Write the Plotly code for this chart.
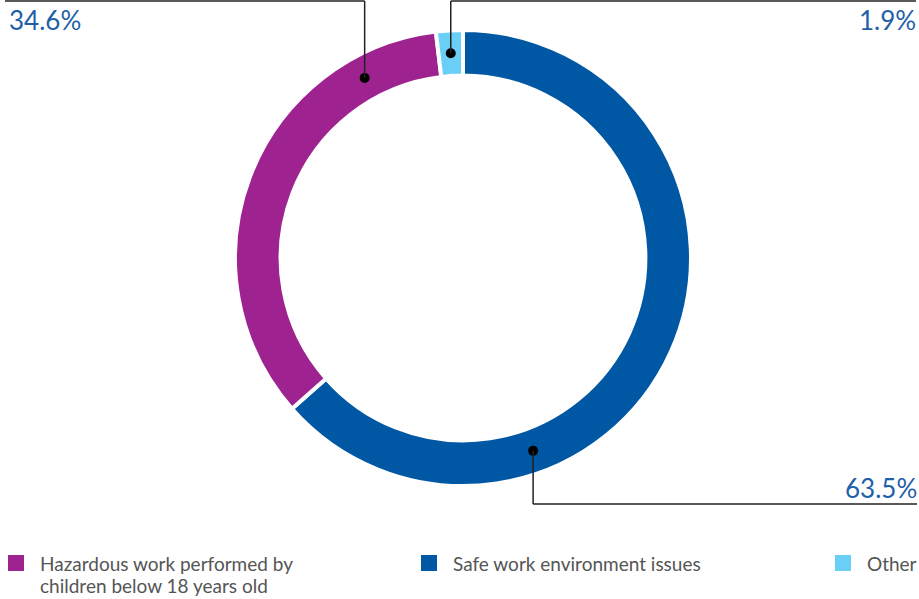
import math
import plotly.graph_objects as go

# ---- data ----
categories = ["Safe work environment issues", "Hazardous work performed by children below 18 years old", "Other"]
values = [63.5, 34.6, 1.9]
value_labels = ["63.5%", "34.6%", "1.9%"]
legend_order = ["Hazardous work performed by<br>children below 18 years old", "Safe work environment issues", "Other"]
# relative position of the leader dot inside each slice (fraction of the slice's arc)
dot_fraction = [0.70, 0.825, 0.5]

colors = ["#0057A3", "#9E2390", "#6ACFF6"]
legend_colors = ["#9E2390", "#0057A3", "#6ACFF6"]
text_blue = "#1F5FA8"

W, H = 919, 599
cx, cy, R = 463, 258, 228
hole = 0.80


def px(x):
    return x / W


def py(y):
    return 1 - y / H


fig = go.Figure(go.Pie(
    labels=categories,
    values=values,
    sort=False,
    direction="clockwise",
    rotation=0,
    hole=hole,
    textinfo="none",
    marker=dict(colors=colors, line=dict(color="white", width=4)),
    domain=dict(x=[px(cx - R), px(cx + R)], y=[py(cy + R), py(cy - R)]),
    showlegend=False,
))

shapes = []
annotations = []
total = sum(values)
cum = 0.0
rmid = R * (1 + hole) / 2
for i, v in enumerate(values):
    ang = (cum + v * dot_fraction[i]) / total * 2 * math.pi  # clockwise from top
    cum += v
    dx = cx + rmid * math.sin(ang)
    dy = cy - rmid * math.cos(ang)
    shapes.append(dict(type="circle", xref="paper", yref="paper",
                       x0=px(dx - 5), x1=px(dx + 5), y0=py(dy + 5), y1=py(dy - 5),
                       fillcolor="black", line=dict(width=0)))
    lab = value_labels[i]
    if lab == "34.6%":
        pts = [(dx, dy), (dx, 1), (5, 1)]
        annotations.append(dict(x=px(7), y=py(20), xref="paper", yref="paper", text=lab,
                                xanchor="left", yanchor="middle", showarrow=False,
                                font=dict(family="Lato", size=26, color=text_blue)))
    elif lab == "1.9%":
        pts = [(dx, dy), (dx, 1), (916, 1)]
        annotations.append(dict(x=px(918), y=py(20), xref="paper", yref="paper", text=lab,
                                xanchor="right", yanchor="middle", showarrow=False,
                                font=dict(family="Lato", size=26, color=text_blue)))
    else:
        pts = [(dx, dy), (dx, 504), (917, 504)]
        annotations.append(dict(x=px(919), y=py(488), xref="paper", yref="paper", text=lab,
                                xanchor="right", yanchor="middle", showarrow=False,
                                font=dict(family="Lato", size=26, color=text_blue)))
    for (x0, y0), (x1, y1) in zip(pts[:-1], pts[1:]):
        shapes.append(dict(type="line", xref="paper", yref="paper",
                           x0=px(x0), y0=py(y0), x1=px(x1), y1=py(y1),
                           line=dict(color="#222222", width=1.5)))

# legend
legend_x = [8, 421, 835]
for lx, name, col in zip(legend_x, legend_order, legend_colors):
    shapes.append(dict(type="rect", xref="paper", yref="paper",
                       x0=px(lx), x1=px(lx + 16), y0=py(571), y1=py(555),
                       fillcolor=col, line=dict(width=0)))
    for k, line in enumerate(name.split("<br>")):
        annotations.append(dict(x=px(lx + 30), y=py(563 + 22 * k), xref="paper", yref="paper",
                                text=line, xanchor="left", yanchor="middle", align="left",
                                showarrow=False,
                                font=dict(family="Lato", size=19, color="#555555")))

fig.update_layout(
    width=W, height=H,
    margin=dict(l=0, r=0, t=0, b=0),
    paper_bgcolor="white", plot_bgcolor="white",
    shapes=shapes, annotations=annotations,
)

fig.write_html("out.html",
               config={"displayModeBar": False},
               post_script="document.body.style.margin='0';document.body.style.padding='0';document.body.style.overflow='hidden';")
